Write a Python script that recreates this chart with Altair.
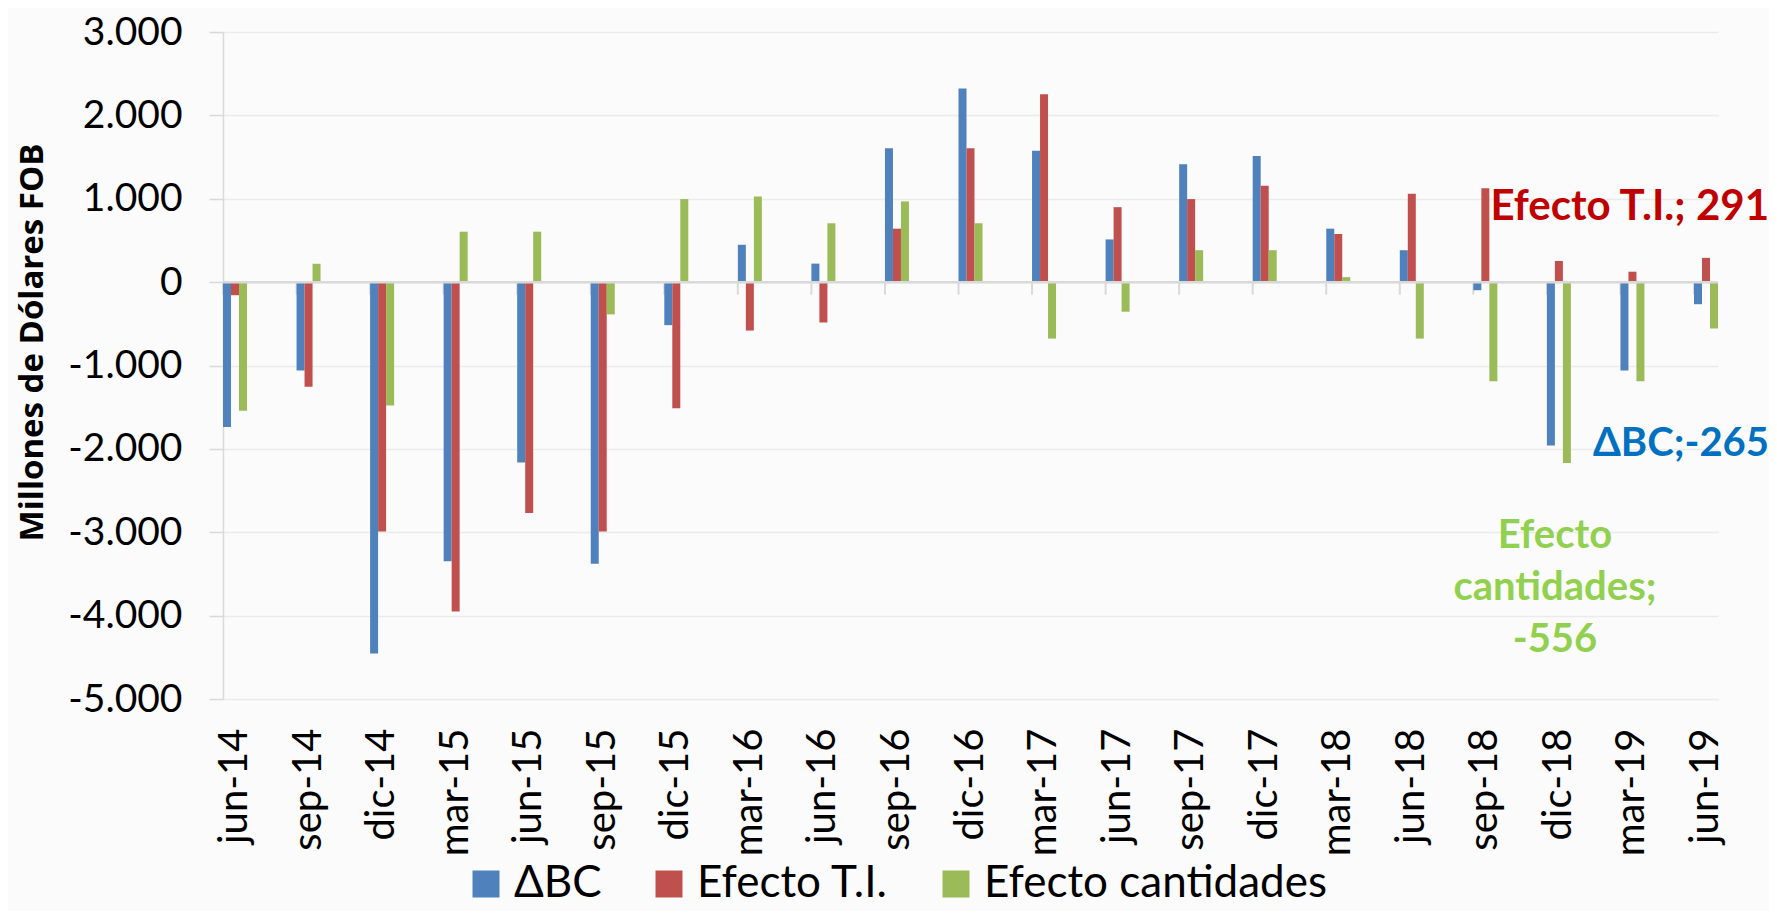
import altair as alt
import pandas as pd

periods = ["jun-14", "sep-14", "dic-14", "mar-15", "jun-15", "sep-15", "dic-15",
           "mar-16", "jun-16", "sep-16", "dic-16", "mar-17", "jun-17", "sep-17",
           "dic-17", "mar-18", "jun-18", "sep-18", "dic-18", "mar-19", "jun-19"]
series = ["ΔBC", "Efecto T.I.", "Efecto cantidades"]
delta_bc = [-1738, -1060, -4454, -3347, -2163, -3378, -516, 448, 222, 1605, 2323,
            1577, 512, 1415, 1512, 641, 383, -97, -1960, -1060, -265]
efecto_ti = [-157, -1254, -2992, -3952, -2769, -2992, -1512, -581, -484, 641, 1605,
             2254, 899, 996, 1157, 577, 1060, 1125, 254, 125, 291]
efecto_cant = [-1544, 220, -1480, 605, 605, -387, 996, 1028, 706, 968, 706,
               -677, -355, 383, 383, 60, -677, -1190, -2170, -1190, -556]
colors = ["#4F81BD", "#C0504D", "#9BBB59"]
y_ticks = [-5000, -4000, -3000, -2000, -1000, 0, 1000, 2000, 3000]

ann_ti = "Efecto T.I.; 291"
ann_bc = "ΔBC;-265"
ann_cant = "Efecto\ncantidades;\n-556"

rows = []
for vals, s in zip([delta_bc, efecto_ti, efecto_cant], series):
    for p, v in zip(periods, vals):
        rows.append({"period": p, "series": s, "value": v})
df = pd.DataFrame(rows)
df_periods = pd.DataFrame({"period": periods})
one = pd.DataFrame({"k": [0]})

FONT = "Lato"

x_axis = alt.Axis(title=None, labelAngle=-90, labelFont=FONT, labelFontSize=40,
                  labelColor="#000000", labelPadding=29, ticks=False,
                  domain=False, grid=False, labelOverlap=False)
x_scale = alt.Scale(paddingInner=0.6737, paddingOuter=0)

y_enc = alt.Y(
    "value:Q",
    scale=alt.Scale(domain=[-5000, 3000], nice=False, zero=False),
    axis=alt.Axis(
        values=y_ticks,
        labelExpr="datum.value == 0 ? '0' : (datum.value < 0 ? '-' : '') + format(abs(datum.value)/1000, 'd') + '.000'",
        labelFont=FONT, labelFontSize=39, labelColor="#000000", labelPadding=27,
        tickSize=14, tickColor="#D9D9D9", tickWidth=1.5,
        domain=True, domainColor="#D9D9D9", domainWidth=1.5,
        grid=True, gridColor="#EBEBEB", gridWidth=1.5,
        title="Millones de Dólares FOB", titleFont="Open Sans", titleFontWeight="bold",
        titleFontSize=33, titleColor="#000000", titleAngle=270,
        titleX=-181, titleY=310, titleAlign="center", titleBaseline="alphabetic",
    ),
)

bars = alt.Chart(df).mark_bar(strokeWidth=0).encode(
    x=alt.X("period:N", sort=periods, scale=x_scale, axis=x_axis),
    xOffset=alt.XOffset("series:N", sort=series,
                        scale=alt.Scale(paddingInner=0, paddingOuter=0)),
    y=y_enc,
    color=alt.Color(
        "series:N", sort=series,
        scale=alt.Scale(domain=series, range=colors),
        legend=alt.Legend(
            title=None, orient="none", legendX=241, legendY=830,
            direction="horizontal", symbolType="square", symbolSize=729,
            symbolStrokeWidth=0, symbolOpacity=1, labelFont=FONT,
            labelFontSize=44, labelColor="#000000", labelOffset=6,
            columnPadding=45, labelLimit=500,
        ),
    ),
)

ticks = alt.Chart(df_periods).mark_rule(color="#D9D9D9", strokeWidth=2).encode(
    x=alt.X("period:N", sort=periods, bandPosition=0, scale=x_scale, axis=x_axis),
    y=alt.datum(0),
    y2=alt.datum(-150),
)

zero = alt.Chart(one).mark_rule(color="#D9D9D9", strokeWidth=2.5).encode(
    y=alt.datum(0)
)

t_ti = alt.Chart(one).mark_text(
    font=FONT, fontWeight="bold", fontSize=42, color="#C00000",
    align="right", baseline="alphabetic",
).encode(x=alt.value(1546), y=alt.value(188), text=alt.value(ann_ti))

t_bc = alt.Chart(one).mark_text(
    font=FONT, fontWeight="bold", fontSize=40, color="#0070C0",
    align="right", baseline="alphabetic",
).encode(x=alt.value(1546), y=alt.value(424), text=alt.value(ann_bc))

t_cant = alt.Chart(one).mark_text(
    font=FONT, fontWeight="bold", fontSize=40, color="#92D050",
    align="center", baseline="alphabetic", lineBreak="\n", lineHeight=52,
).encode(x=alt.value(1332), y=alt.value(516), text=alt.value(ann_cant))

chart = alt.layer(ticks, bars, zero, t_ti, t_bc, t_cant).properties(
    width=1495, height=667,
    autosize=alt.AutoSizeParams(type="none"),
    padding={"left": 215, "top": 24, "right": 51, "bottom": 212},
    background="#FBFBFB",
).configure_view(stroke=None)

chart.save("out.html", embed_options={"renderer": "svg", "actions": False})
